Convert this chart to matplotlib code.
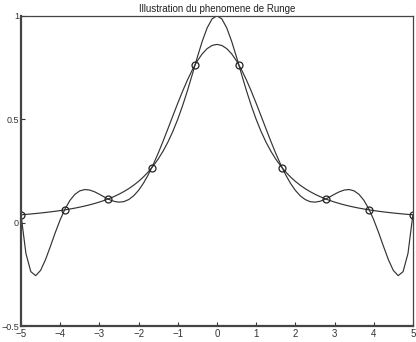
import matplotlib
matplotlib.use("Agg")
import matplotlib.pyplot as plt

# abscisses d'echantillonnage (pas 0.125 sur [-5, 5])
x_half = [0, 0.125, 0.25, 0.375, 0.5, 0.625, 0.75, 0.875, 1, 1.125, 1.25, 1.375,
          1.5, 1.625, 1.75, 1.875, 2, 2.125, 2.25, 2.375, 2.5, 2.625, 2.75, 2.875,
          3, 3.125, 3.25, 3.375, 3.5, 3.625, 3.75, 3.875, 4, 4.125, 4.25, 4.375,
          4.5, 4.625, 4.75, 4.875, 5]

# fonction de Runge (courbe symetrique)
runge_half = [1.0, 0.9846, 0.9412, 0.8767, 0.8, 0.7191, 0.64, 0.5664, 0.5, 0.4414,
              0.3902, 0.3459, 0.3077, 0.2747, 0.2462, 0.2215, 0.2, 0.1813, 0.1649,
              0.1506, 0.1379, 0.1267, 0.1168, 0.1079, 0.1, 0.0929, 0.0865, 0.0807,
              0.0755, 0.0707, 0.0664, 0.0624, 0.0588, 0.0555, 0.0525, 0.0497,
              0.0471, 0.0447, 0.0424, 0.0404, 0.0385]

# polynome d'interpolation (10 noeuds equidistants)
poly_half = [0.8615, 0.8564, 0.8411, 0.8160, 0.7820, 0.7398, 0.6907, 0.6361, 0.5774,
             0.5164, 0.4546, 0.3938, 0.3356, 0.2816, 0.2330, 0.1911, 0.1566, 0.1303,
             0.1122, 0.1021, 0.0995, 0.1034, 0.1122, 0.1244, 0.1377, 0.1497, 0.1581,
             0.1604, 0.1540, 0.1372, 0.1084, 0.0673, 0.0147, -0.0472, -0.1139,
             -0.1782, -0.2300, -0.2554, -0.2361, -0.1482, 0.0385]

# noeuds d'interpolation
x_nodes = [-5, -3.889, -2.778, -1.667, -0.556, 0.556, 1.667, 2.778, 3.889, 5]
y_nodes = [0.0385, 0.0620, 0.1147, 0.2647, 0.7642, 0.7642, 0.2647, 0.1147, 0.0620, 0.0385]

x_ticks = [-5, -4, -3, -2, -1, 0, 1, 2, 3, 4, 5]
y_ticks = [-0.5, 0, 0.5, 1]
y_ticklabels = ["\u22120.5", "0", "0.5", "1"]

x_full = [-v for v in x_half[:0:-1]] + x_half
runge_full = runge_half[:0:-1] + runge_half
poly_full = poly_half[:0:-1] + poly_half

plt.rcParams["font.family"] = ["Liberation Sans", "DejaVu Sans"]

fig = plt.figure(figsize=(4.16, 3.42), dpi=100)
ax = fig.add_axes([0.0505, 0.046, 0.942, 0.908])

ax.plot(x_full, runge_full, color="#333333", lw=0.85)
ax.plot(x_full, poly_full, color="#333333", lw=0.85)
ax.plot(x_nodes, y_nodes, "o", mfc="none", mec="#222222", ms=5, mew=0.9)

ax.set_xlim(-5, 5)
ax.set_ylim(-0.5, 1)
ax.set_xticks(x_ticks)
ax.set_xticklabels([str(t).replace("-", "\u2212") for t in x_ticks])
ax.set_yticks(y_ticks)
ax.set_yticklabels(y_ticklabels)
ax.tick_params(direction="in", length=3, width=0.8, labelsize=7, pad=2,
               colors="#333333")
ax.tick_params(axis="y", pad=1.5, labelsize=6.5)

for side in ("left", "bottom"):
    ax.spines[side].set_linewidth(1.6)
    ax.spines[side].set_color("#444444")
for side in ("top", "right"):
    ax.spines[side].set_linewidth(0.9)
    ax.spines[side].set_color("#444444")

ax.set_title("Illustration du phenomene de Runge", fontsize=7, pad=3,
             color="#222222")

fig.savefig("out.png", dpi=100)
